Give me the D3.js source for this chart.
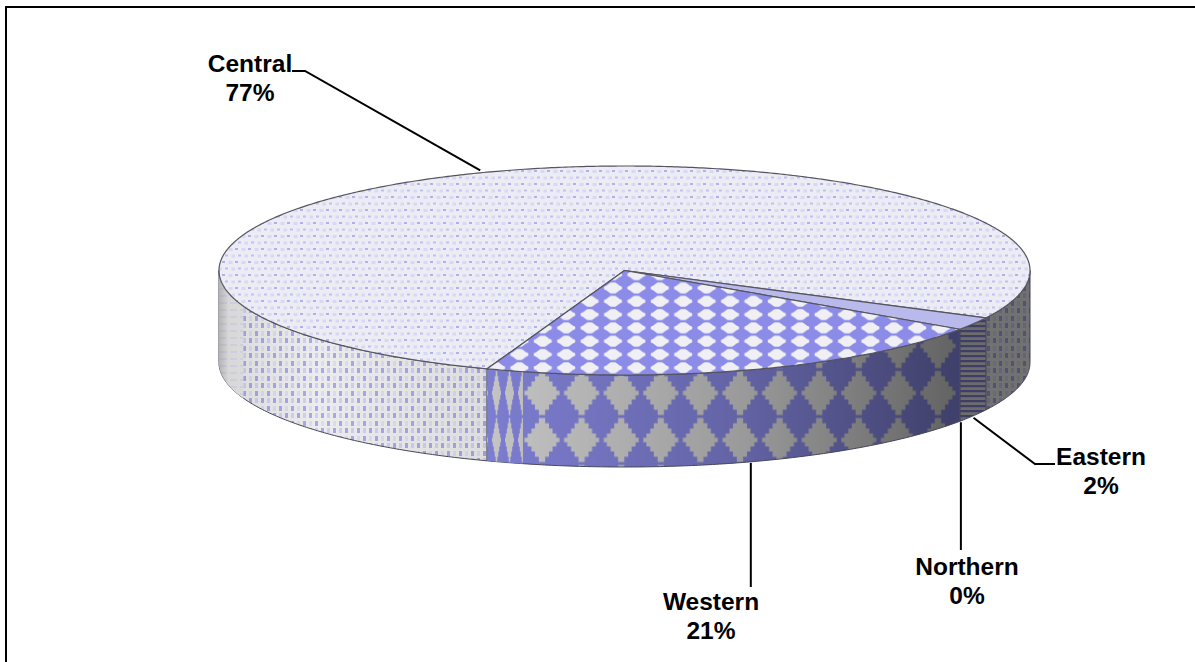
<!DOCTYPE html>
<html><head><meta charset="utf-8">
<script src="https://d3js.org/d3.v7.min.js"></script>
<style>html,body{margin:0;padding:0;background:#fff}svg{display:block}
text{font-family:"Liberation Sans",Arial,sans-serif;font-weight:700;font-size:24.5px;fill:#000;text-anchor:middle}</style>
</head><body><div id="chart"></div>
<script>
const categories=["Central","Eastern","Northern","Western"];
const shares=[77,2,0,21];
const W=1195,H=662,cx=624.5,cy=270.5,rx=405.5,ry=104.5,depth=92;
const rad=d=>d*Math.PI/180;
const svg=d3.select("#chart").append("svg").attr("width",W).attr("height",H);
const defs=svg.append("defs");

function pat(id,w,h,bg){
  const p=defs.append("pattern").attr("id",id).attr("patternUnits","userSpaceOnUse").attr("width",w).attr("height",h);
  p.append("rect").attr("width",w).attr("height",h).attr("fill",bg);
  return p;
}
// stair-stepped diamond: st lists [half-width fraction, half-height fraction] of each step's outer corner
function stepDiamond(p,x,y,hw,hh,fill,st){
  const q=[];
  st.forEach(s=>q.push([x+hw*s[0],y-hh*s[1]]));
  st.slice().reverse().forEach(s=>q.push([x-hw*s[0],y-hh*s[1]]));
  st.forEach(s=>q.push([x-hw*s[0],y+hh*s[1]]));
  st.slice().reverse().forEach(s=>q.push([x+hw*s[0],y+hh*s[1]]));
  p.append("path").attr("d","M"+q.join("L")+"Z").attr("fill",fill);
}
const wallSteps=[[1,.1],[.82,.1],[.82,.3],[.6,.3],[.6,.52],[.4,.52],[.4,.76],[.18,.76],[.18,1]];
const topSteps=[[1,.2],[.72,.45],[.45,.8],[.25,1]];
// top faces
let p=pat("topCentral",13,13,"#ecedf4");
[[1,1,3,2,"#b0b0ee"],[7.5,1,4,3,"#d8d8f2"],[4,7.5,3,2,"#c0c0ee"],[10.5,7.5,2.5,3,"#d8d8f2"],[0,7.5,1,3,"#d8d8f2"]].forEach(d=>p.append("rect").attr("x",d[0]).attr("y",d[1]).attr("width",d[2]).attr("height",d[3]).attr("fill",d[4]));
p=pat("topWestern",23.4,13.3,"#8c8ce8");
stepDiamond(p,11.7,6.65,9,5.4,"#f0f0f4",topSteps);
p.attr("patternTransform","translate(601.3,281.35)");
p=pat("topEastern",8,8,"#b9b9ec");
// wall faces
p=pat("wallCentral",12,15,"#ececec");
[[3,1,"#a8a8ea"],[9,8,"#a8a8ea"],[9,1,"#dcdcee"],[3,8,"#d0d0ee"]].forEach(d=>p.append("rect").attr("x",d[0]).attr("y",d[1]).attr("width",3).attr("height",5).attr("fill",d[2]));
p=pat("wallCentralEdge",10,7,"#e8e8e8");
p.append("rect").attr("x",0).attr("y",1).attr("width",7).attr("height",2).attr("fill","#dcdcee");
p=pat("wallWestern",39.6,47,"#8686e0");
stepDiamond(p,19.8,23.5,17.5,22,"#d2d2d2",wallSteps);
p.attr("patternTransform","translate(522.2,369.5)");
p=pat("wallWesternEdge",13,47,"#8686e0");
stepDiamond(p,6.5,23.5,4.5,22,"#d2d2d2",wallSteps);
p.attr("patternTransform","translate(490,369.5)");
p=pat("wallEastern",8,5,"#e0e0e0");
p.append("rect").attr("y",0).attr("width",8).attr("height",2.2).attr("fill","#8080d8");
// shading across the wall
const shade=defs.append("linearGradient").attr("id","shade").attr("gradientUnits","userSpaceOnUse").attr("x1",cx-rx).attr("x2",cx+rx).attr("y1",0).attr("y2",0);
[[0,.22],[.012,.07],[.12,0],[.32,.06],[.65,.27],[.9,.52],[1,.52]].forEach(s=>shade.append("stop").attr("offset",s[0]).attr("stop-color","#000").attr("stop-opacity",s[1]));

const pie=d3.pie().sort(null).startAngle(rad(199.8)).endAngle(rad(559.8));
const arcs=pie(shares);
const px=a=>cx+rx*Math.sin(a), py=a=>cy-ry*Math.cos(a);
const line=d3.line().x(d=>d[0]).y(d=>d[1]);
const samples=(a0,a1)=>{const n=Math.max(2,Math.ceil((a1-a0)/rad(.5)));return d3.range(n+1).map(i=>a0+(a1-a0)*i/n);};
const wallPath=(a0,a1)=>{
  const s=samples(a0,a1);
  return line(s.map(a=>[px(a),py(a)]).concat(s.slice().reverse().map(a=>[px(a),py(a)+depth])))+"Z";
};
function wall(a0,a1,fill){
  const d=wallPath(a0,a1);
  svg.append("path").attr("d",d).attr("fill",`url(#${fill})`);
  svg.append("path").attr("d",d).attr("fill","url(#shade)").attr("stroke","#45455a").attr("stroke-width",1);
}
const wallFill={Central:"wallCentral",Eastern:"wallEastern",Western:"wallWestern"};
const TAU=2*Math.PI;
arcs.forEach((d,i)=>{
  const name=categories[i];
  if(d.endAngle-d.startAngle<1e-6) return;
  [0,TAU].forEach(k=>{
    const a0=Math.max(d.startAngle-k,rad(90)), a1=Math.min(d.endAngle-k,rad(270));
    if(a1>a0) wall(a0,a1,wallFill[name]);
  });
  if(name==="Western"){
    // the pattern bunches up at the slice's left end
    const e=d.endAngle-TAU, dd=wallPath(rad(194.5),e);
    svg.append("path").attr("d",dd).attr("fill","url(#wallWesternEdge)");
    svg.append("path").attr("d",dd).attr("fill","url(#shade)");
  }
  if(name==="Central"){
    const dd=wallPath(rad(250),rad(270));
    svg.append("path").attr("d",dd).attr("fill","url(#wallCentralEdge)");
    svg.append("path").attr("d",dd).attr("fill","url(#shade)");
  }
});
const topFill={Central:"topCentral",Eastern:"topEastern",Western:"topWestern"};
arcs.forEach((d,i)=>{
  if(d.endAngle-d.startAngle<1e-6) return;
  const pts=[[cx,cy]].concat(samples(d.startAngle,d.endAngle).map(a=>[px(a),py(a)]));
  svg.append("path").attr("d",line(pts)+"Z").attr("fill",`url(#${topFill[categories[i]]})`)
    .attr("stroke","#55555f").attr("stroke-width",1.2).attr("stroke-linejoin","round");
});

// leader lines and labels, anchored on each slice's middle angle
const labelAt={Central:{x:250,y:71,dir:"r"},Eastern:{x:1101,y:464,dir:"l"},Northern:{x:967,y:574,dir:"t"},Western:{x:711,y:609,dir:"t"}};
arcs.forEach((d,i)=>{
  const name=categories[i],L=labelAt[name];
  const a=(d.startAngle+d.endAngle)/2;
  const onWall=Math.cos(a)<0;
  const ax=px(a),ay=py(a)+(onWall?depth:0);
  let pts;
  if(L.dir==="r") pts=[[ax+5,ay-3],[L.x+55,L.y],[L.x+42,L.y]];
  else if(L.dir==="l") pts=[[ax,ay+2],[L.x-66,L.y],[L.x-46,L.y]];
  else pts=[[ax+1,ay+1],[ax+1,L.y-(name==="Western"?22:24)]];
  svg.append("path").attr("d",line(pts)).attr("fill","none").attr("stroke","#000").attr("stroke-width",2);
  const t=svg.append("text").attr("x",L.x).attr("y",L.y+1);
  t.append("tspan").attr("x",L.x).text(name);
  t.append("tspan").attr("x",L.x).attr("dy",28.5).text(shares[i]+"%");
});
// frame
svg.append("rect").attr("x",6).attr("y",7).attr("width",1300).attr("height",720).attr("fill","none").attr("stroke","#000").attr("stroke-width",2);
</script></body></html>
